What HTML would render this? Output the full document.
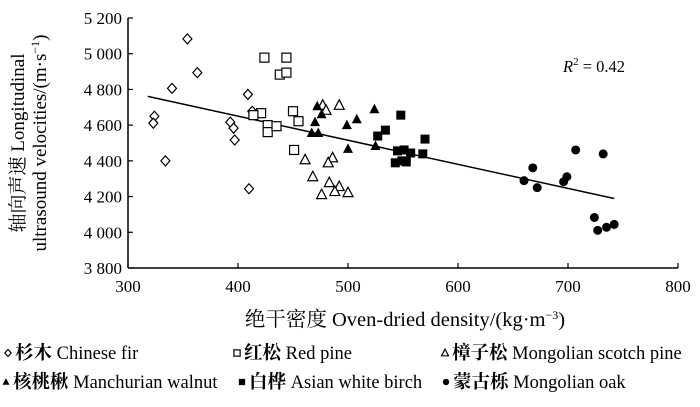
<!DOCTYPE html>
<html><head><meta charset="utf-8"><style>
body{margin:0;background:#fff;}
svg text{font-family:"Liberation Serif",serif;fill:#000;}
svg .cjk{font-family:"Noto Serif CJK SC","Noto Sans CJK SC",serif;}
</style></head><body>
<svg width="700" height="402" viewBox="0 0 700 402">
<g id="axes"></g><g id="marks"></g><g id="legend"></g>
</svg>
<script>
const xTicks=[300,400,500,600,700,800];
const yTicks=[3800,4000,4200,4400,4600,4800,5000,5200];
const yTickLabels=["3 800","4 000","4 200","4 400","4 600","4 800","5 000","5 200"];
const firX=[354,363,340,324,323,334,409,413,393,396,397,410];
const firY=[5083,4894,4806,4650,4611,4400,4772,4678,4617,4583,4517,4244];
const redX=[424,444,438,444,421,414,427,427,435,450,455,451];
const redY=[4978,4978,4883,4894,4667,4656,4600,4561,4594,4678,4622,4461];
const scotchX=[477,480,492,461,486,482,468,483,492,488,500,476];
const scotchY=[4711,4683,4711,4406,4417,4389,4311,4278,4256,4228,4222,4211];
const walnutX=[472,476,470,467,473,499,508,524,500,525];
const walnutY=[4706,4661,4617,4556,4556,4600,4633,4689,4467,4483];
const birchX=[548,527,534,570,545,551,557,568,543,549,553];
const birchY=[4656,4539,4572,4522,4456,4461,4444,4439,4389,4400,4394];
const oakX=[707,732,668,660,672,699,696,724,727,735,742];
const oakY=[4461,4439,4361,4289,4250,4311,4283,4083,4011,4028,4044];
const trendSlope=-1.349, trendIntercept=5190, trendRange=[318,742];

const NS="http://www.w3.org/2000/svg";
const L=128,R=678,T=18,B=268;
const sx=v=>L+(v-300)/500*(R-L);
const sy=v=>B-(v-3800)/1400*(B-T);
function mk(tag,attrs,parent,text){const e=document.createElementNS(NS,tag);for(const k in attrs)e.setAttribute(k,attrs[k]);if(text!==undefined)e.textContent=text;parent.appendChild(e);return e;}
const ax=document.getElementById('axes');
let e=mk('line',{x1:L,y1:T,x2:L,y2:B,stroke:'#000','stroke-width':1.5},ax);


e=mk('line',{x1:L,y1:B,x2:R,y2:B,stroke:'#000','stroke-width':1.5},ax);


yTicks.forEach((v,i)=>{
 mk('line',{x1:L,y1:sy(v),x2:L+5,y2:sy(v),stroke:'#000','stroke-width':1.2},ax);
 const t=mk('text',{x:L-6,y:sy(v)+6,'text-anchor':'end','font-size':17},ax,yTickLabels[i]);
 
 
});
xTicks.forEach(v=>{
 mk('line',{x1:sx(v),y1:B,x2:sx(v),y2:B-5,stroke:'#000','stroke-width':1.2},ax);
 const t=mk('text',{x:sx(v),y:B+24,'text-anchor':'middle','font-size':17},ax,String(v));
 
 
});
let t=mk('text',{x:405,y:326,'text-anchor':'middle','font-size':20.5},ax);


t.innerHTML='<tspan class="cjk">绝干密度</tspan> Oven-dried density/(kg·m<tspan dy="-7" font-size="12">−3</tspan><tspan dy="7">)</tspan>';
t=mk('text',{transform:'translate(24,143) rotate(-90)','text-anchor':'middle','font-size':19},ax);


t.innerHTML='<tspan class="cjk">轴向声速</tspan> Longitudinal';
t=mk('text',{transform:'translate(46,143) rotate(-90)','text-anchor':'middle','font-size':19},ax);


t.innerHTML='ultrasound velocities/(m·s<tspan dy="-7" font-size="12">−1</tspan><tspan dy="7">)</tspan>';
t=mk('text',{x:563,y:72,'font-size':16.5},ax);


t.innerHTML='<tspan font-style="italic">R</tspan><tspan dy="-7" font-size="11">2</tspan><tspan dy="7"> = 0.42</tspan>';

const mg=document.getElementById('marks');
e=mk('line',{x1:sx(trendRange[0]),y1:sy(trendIntercept+trendSlope*trendRange[0]),x2:sx(trendRange[1]),y2:sy(trendIntercept+trendSlope*trendRange[1]),stroke:'#000','stroke-width':1.5},mg);



function marker(type,x,y,g,s){
 s=s||1;let el;
 if(type==='diamond')el=mk('polygon',{points:`${x},${y-5*s} ${x+4.5*s},${y} ${x},${y+5*s} ${x-4.5*s},${y}`,fill:'#fff',stroke:'#000','stroke-width':1.2},g);
 else if(type==='square')el=mk('rect',{x:x-4.5*s,y:y-4.5*s,width:9*s,height:9*s,fill:'#fff',stroke:'#000','stroke-width':1.2},g);
 else if(type==='otri')el=mk('polygon',{points:`${x},${y-5.5*s} ${x+5*s},${y+4*s} ${x-5*s},${y+4*s}`,fill:'#fff',stroke:'#000','stroke-width':1.2},g);
 else if(type==='ftri')el=mk('polygon',{points:`${x},${y-5.5*s} ${x+5*s},${y+4*s} ${x-5*s},${y+4*s}`,fill:'#000'},g);
 else if(type==='fsquare')el=mk('rect',{x:x-4.5*s,y:y-4.5*s,width:9*s,height:9*s,fill:'#000'},g);
 else el=mk('circle',{cx:x,cy:y,r:4.5*s,fill:'#000'},g);
 return el;
}
const series=[['diamond',firX,firY,'chinese-fir'],['square',redX,redY,'red-pine'],['otri',scotchX,scotchY,'mongolian-scotch-pine'],['ftri',walnutX,walnutY,'manchurian-walnut'],['fsquare',birchX,birchY,'asian-white-birch'],['circle',oakX,oakY,'mongolian-oak']];
series.forEach(([ty,xs,ys,nm])=>{
 xs.forEach((v,i)=>{
  const m=marker(ty,sx(v),sy(ys[i]),mg);
  
  
 });
});
const lg=document.getElementById('legend');
const leg=[['diamond',8,359,'杉木','Chinese fir'],['square',237,359,'红松','Red pine'],['otri',445,359,'樟子松','Mongolian scotch pine'],['ftri',6,388,'核桃楸','Manchurian walnut'],['fsquare',242,388,'白桦','Asian white birch'],['circle',446,388,'蒙古栎','Mongolian oak']];
leg.forEach(([ty,x,y,cn,en])=>{
 const g=mk('g',{},lg);
 
 
 marker(ty,x,y-6,g,0.7);
 const tx=mk('text',{x:x+7,y:y,'font-size':18.5},g);
 tx.innerHTML='<tspan class="cjk" font-weight="bold">'+cn+'</tspan> '+en;
});
</script>
</body></html>
